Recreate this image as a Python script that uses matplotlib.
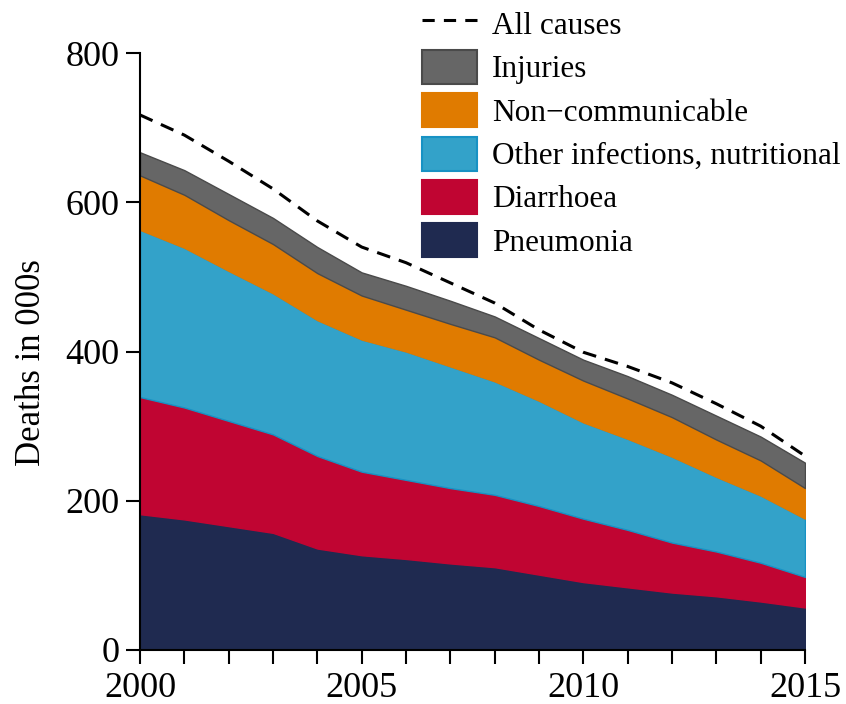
import matplotlib
matplotlib.use("Agg")
import matplotlib.pyplot as plt
from matplotlib.patches import Patch
from matplotlib.lines import Line2D

plt.rcParams['font.family'] = ['Liberation Serif', 'DejaVu Serif']

years = list(range(2000, 2016))

pneumonia = [182, 175, 166, 157, 136, 127, 122, 116, 111, 101, 91, 84, 77, 72, 65, 57]
diarrhoea = [157, 150, 141, 132, 124, 112, 106, 101, 97, 92, 85, 77, 67, 60, 52, 41]
other_infections = [224, 214, 201, 189, 182, 177, 172, 163, 152, 141, 129, 122, 115, 100, 90, 78]
non_communicable = [73, 71, 68, 66, 63, 59, 56, 57, 59, 55, 56, 54, 53, 50, 47, 41]
injuries = [31, 33, 35, 35, 35, 31, 32, 31, 28, 29, 28, 30, 30, 32, 32, 34]
all_causes = [717, 690, 655, 618, 575, 540, 519, 492, 465, 429, 399, 380, 358, 330, 300, 260]

labels = ["Pneumonia", "Diarrhoea", "Other infections, nutritional",
          "Non\u2212communicable", "Injuries"]
fills = ["#1f2a50", "#c00532", "#33a2c9", "#e07b00", "#666666"]
edges = ["#1f2a50", "#c00532", "#1792c4", "#e07b00", "#4a4a4a"]

fig = plt.figure(figsize=(8.46, 7.04), dpi=100)
ax = fig.add_axes([140 / 846, 1 - 650 / 704, (805 - 140) / 846, (650 - 53) / 704])

# stacked areas, bottom to top
series = [pneumonia, diarrhoea, other_infections, non_communicable, injuries]
base = [0] * len(years)
for vals, fc, ec in zip(series, fills, edges):
    top = [b + v for b, v in zip(base, vals)]
    ax.fill_between(years, base, top, facecolor=fc, edgecolor=ec, linewidth=1.0, zorder=2)
    base = top

ax.plot(years, all_causes, color="black", linestyle=(0, (4.5, 3)), linewidth=2.2, zorder=3)

ax.set_xlim(2000, 2015)
ax.set_ylim(0, 800)
ax.set_xticks(range(2000, 2016))
ax.set_xticklabels([str(y) if y % 5 == 0 else "" for y in years])
ax.set_yticks([0, 200, 400, 600, 800])
ax.tick_params(axis='both', direction='out', length=10, width=1.5, labelsize=26, colors='black')
ax.tick_params(axis='x', pad=6)
ax.tick_params(axis='y', pad=5)
for side in ("top", "right"):
    ax.spines[side].set_visible(False)
for side in ("left", "bottom"):
    ax.spines[side].set_linewidth(1.5)
ax.set_ylabel("Deaths in 000s", fontsize=25)
ax.yaxis.set_label_coords(-0.138, 0.482)

handles = [Line2D([0], [0], color="black", linestyle=(0, (4, 3)), linewidth=2.2)]
legend_labels = ["All causes"]
for lab, fc, ec in reversed(list(zip(labels, fills, edges))):
    handles.append(Patch(facecolor=fc, edgecolor=ec, linewidth=1.5))
    legend_labels.append(lab)

fig.legend(handles, legend_labels, loc="upper left", bbox_to_anchor=(422 / 846, 0.991),
           frameon=False, fontsize=22.5, handlelength=1.76, handleheight=1.3,
           handletextpad=0.48, labelspacing=0.285, borderpad=0, borderaxespad=0)

fig.savefig("out.png", dpi=100)
